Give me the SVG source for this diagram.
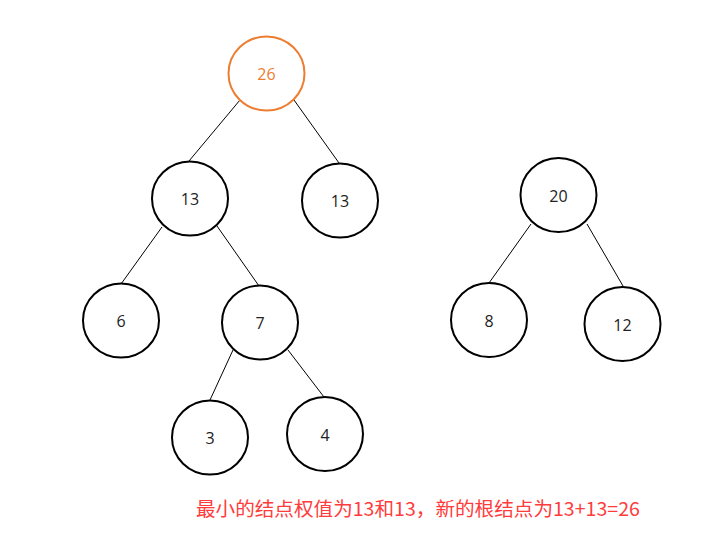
<svg xmlns="http://www.w3.org/2000/svg" width="728" height="545" viewBox="0 0 728 545">
<style>
.n ellipse{fill:#fff;stroke:#000;stroke-width:2}
.n text{font-family:"Open Sans","Noto Sans",sans-serif;font-size:16px;fill:#222;text-anchor:middle;dominant-baseline:central}
#n26 ellipse{stroke:#ed7d31}
#n26 text{fill:#ed7d31}
.e line{stroke:#000;stroke-width:1}
.cap{font-family:"Noto Sans CJK SC","Noto Sans",sans-serif;font-size:19px;fill:#ff3b3b}
</style>
<rect width="728" height="545" fill="#fff"/>
<g class="e" id="connectors">
<line x1="240" y1="100" x2="189" y2="161"/>
<line x1="294" y1="100" x2="339" y2="163"/>
<line x1="162" y1="227" x2="121" y2="284"/>
<line x1="217" y1="226" x2="259" y2="286"/>
<line x1="233" y1="350" x2="210" y2="400"/>
<line x1="288" y1="350" x2="324" y2="397"/>
<line x1="531" y1="224" x2="489" y2="283"/>
<line x1="587" y1="224" x2="623" y2="286"/>
</g>
<g class="n" id="n26"><ellipse cx="266.5" cy="73.5" rx="38" ry="37"/><text x="266.5" y="74">26</text></g>
<g class="n" id="n13a"><ellipse cx="190" cy="198.5" rx="38" ry="37"/><text x="190" y="199">13</text></g>
<g class="n" id="n13b"><ellipse cx="340" cy="200.5" rx="38" ry="37"/><text x="340" y="201">13</text></g>
<g class="n" id="n6"><ellipse cx="121" cy="320.5" rx="38" ry="37"/><text x="121" y="321">6</text></g>
<g class="n" id="n7"><ellipse cx="260" cy="322.5" rx="38" ry="37"/><text x="260" y="323">7</text></g>
<g class="n" id="n3"><ellipse cx="210" cy="437.5" rx="38" ry="37"/><text x="210" y="438">3</text></g>
<g class="n" id="n4"><ellipse cx="325" cy="434" rx="38" ry="37"/><text x="325" y="435">4</text></g>
<g class="n" id="n20"><ellipse cx="558.5" cy="195" rx="38" ry="37"/><text x="558.5" y="196">20</text></g>
<g class="n" id="n8"><ellipse cx="489" cy="320" rx="38" ry="37"/><text x="489" y="321">8</text></g>
<g class="n" id="n12"><ellipse cx="622.5" cy="324" rx="38" ry="37"/><text x="622.5" y="325">12</text></g>
<text class="cap" x="196" y="516" textLength="444" lengthAdjust="spacingAndGlyphs">最小的结点权值为13和13，新的根结点为13+13=26</text>
</svg>
